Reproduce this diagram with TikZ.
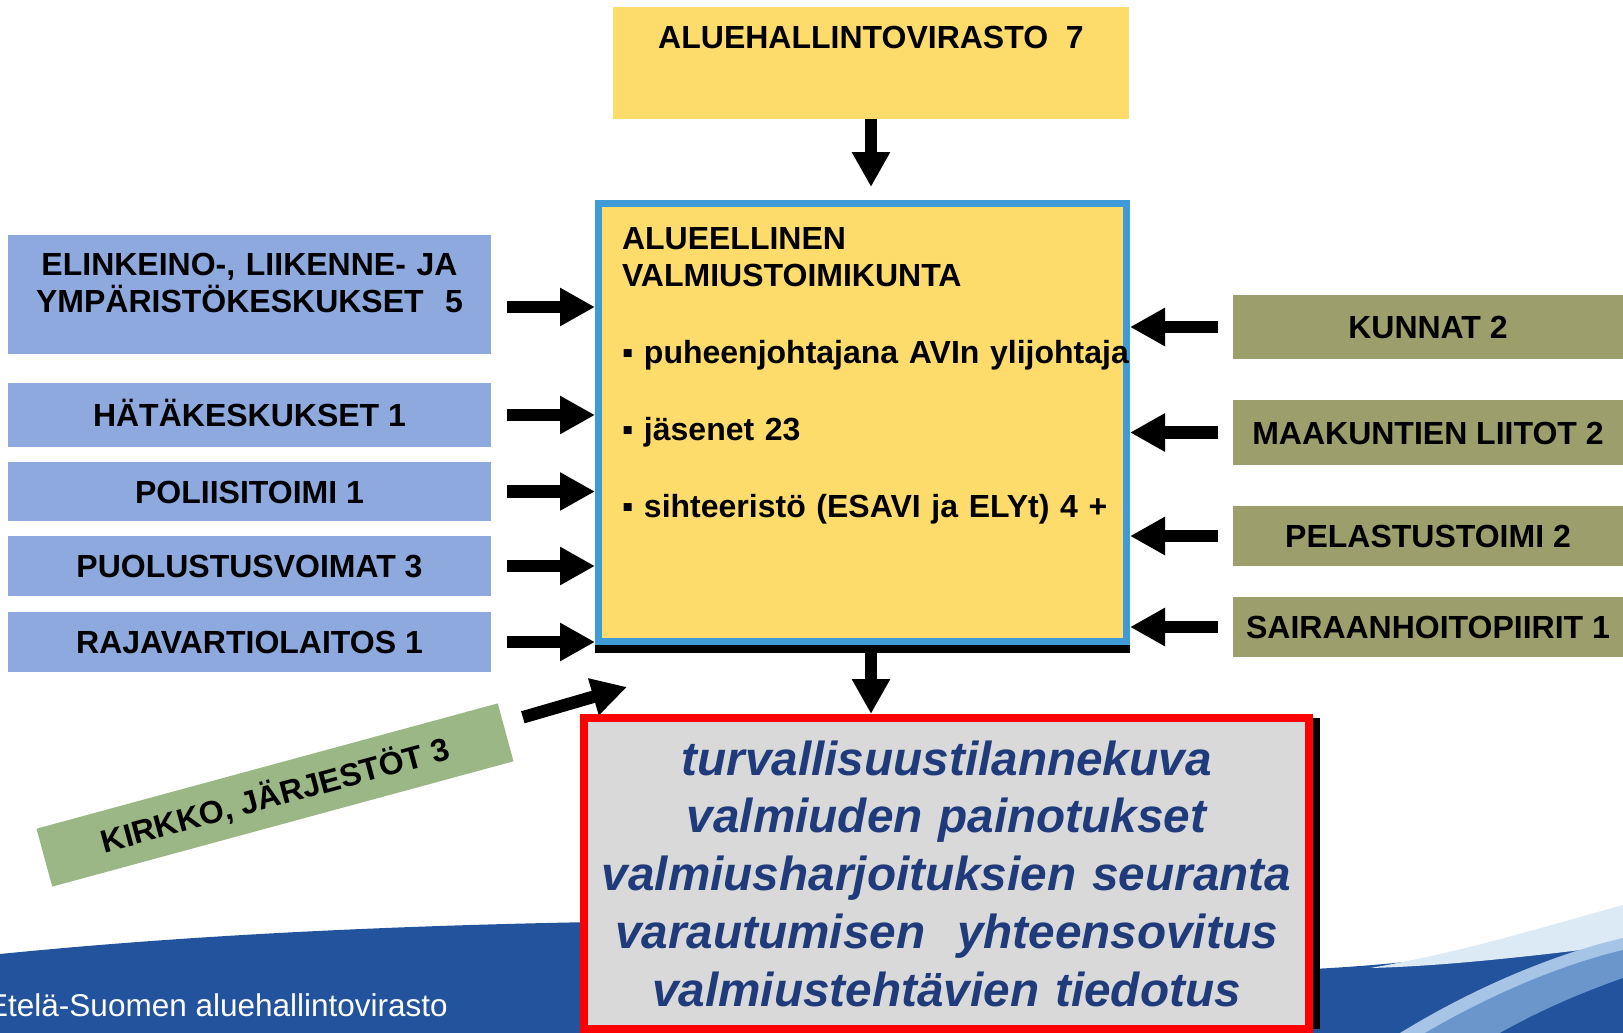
\documentclass[tikz,border=0pt]{standalone}
\usepackage{fontspec}
\setmainfont{Liberation Sans}
\usetikzlibrary{arrows.meta,shadows}

\definecolor{avikeltainen}{HTML}{FEDC6C}
\definecolor{avisininen}{HTML}{3F9BD8}
\definecolor{valtiosininen}{HTML}{8EA9DE}
\definecolor{kuntaoliivi}{HTML}{9C9F6B}
\definecolor{kirkkovihrea}{HTML}{9AB785}
\definecolor{harmaa}{HTML}{D9D9D9}
\definecolor{tekstisininen}{HTML}{1F3B7B}
\definecolor{aaltotumma}{HTML}{24539D}
\definecolor{aaltokeski}{HTML}{6A96CB}
\definecolor{aaltohaalea}{HTML}{A6C4E5}
\definecolor{aaltovaalea}{HTML}{DCEAF6}

\begin{document}
\begin{tikzpicture}[x=1pt, y=-1pt,
        every node/.style={inner sep=0pt, font=\fontsize{32}{37}\selectfont\bfseries},
        valtio/.style={fill=valtiosininen, minimum width=483pt, minimum height=60pt, text height=23pt, text depth=0pt},
        kunta/.style={fill=kuntaoliivi, minimum width=390pt, minimum height=60pt, text height=23pt, text depth=0pt},
        nuoli/.style={line width=12.5pt, -{Triangle[length=35pt, width=36pt]}},
    ]
        \useasboundingbox (0,0) rectangle (1623,1033);
        \fill[white] (0,0) rectangle (1623,1033);
        \clip (0,0) rectangle (1623,1033);
        % alareunan aalto
        \fill[aaltotumma] (0,954) .. controls (200,934) and (420,924) .. (660,921) -- (660,1033) -- (0,1033) -- cycle;
        \fill[aaltotumma] (1290,970) .. controls (1420,965) and (1520,948) .. (1623,928) -- (1623,1033) -- (1290,1033) -- cycle;
        \fill[aaltovaalea] (1370,968) .. controls (1460,953) and (1550,925) .. (1623,905) -- (1623,945) .. controls (1540,955) and (1450,966) .. (1370,968) -- cycle;
        \fill[aaltohaalea] (1400,1033) .. controls (1470,990) and (1550,955) .. (1623,938) -- (1623,1033) -- cycle;
        \fill[aaltokeski] (1425,1033) .. controls (1490,995) and (1560,965) .. (1623,950) -- (1623,1033) -- cycle;
        \fill[aaltotumma] (1500,1033) .. controls (1550,1005) and (1590,990) .. (1623,978) -- (1623,1033) -- cycle;

        \node[fill=avikeltainen, minimum width=516pt, text height=23pt, inner ysep=18.5pt, text depth=52pt] (avi) at (871,63) {ALUEHALLINTOVIRASTO\ \ 7};
        \node[draw=avisininen, line width=7pt, fill=avikeltainen, text width=481pt, inner xsep=23.5pt, inner ysep=23pt,
            text height=23pt, text depth=369pt, align=left] (vtk) at (862.5,422.5)
            {ALUEELLINEN\\VALMIUSTOIMIKUNTA\\[40pt]\mbox{▪ puheenjohtajana AVIn ylijohtaja}\\[40pt]▪ jäsenet 23\\[40pt]\mbox{▪ sihteeristö (ESAVI ja ELYt) 4 +}};
        \draw[line width=8pt] ([yshift=-4pt]vtk.south west) -- ([yshift=-4pt]vtk.south east);
        \coordinate (palkki) at ([yshift=-8pt]vtk.south);

        \node[valtio, minimum height=119pt, text width=483pt, align=center, inner ysep=17.5pt, text depth=61pt] (ely) at (249.5,294.5)
            {ELINKEINO-, LIIKENNE- JA\\YMPÄRISTÖKESKUKSET\ \ 5};
        \node[valtio, minimum height=64pt] (hata) at (249.5,415) {HÄTÄKESKUKSET 1};
        \node[valtio, minimum height=59pt] (poliisi) at (249.5,491.5) {POLIISITOIMI 1};
        \node[valtio] (puolustus) at (249.5,566) {PUOLUSTUSVOIMAT 3};
        \node[valtio] (raja) at (249.5,642) {RAJAVARTIOLAITOS 1};

        \node[kunta, minimum height=64pt] (kunnat) at (1428,327) {KUNNAT 2};
        \node[kunta, minimum height=65pt] (maakunnat) at (1428,432.5) {MAAKUNTIEN LIITOT 2};
        \node[kunta] (pelastus) at (1428,536) {PELASTUSTOIMI 2};
        \node[kunta] (sairaanhoito) at (1428,627) {SAIRAANHOITOPIIRIT 1};

        \node[fill=kirkkovihrea, minimum width=478pt, minimum height=60pt, text height=23pt, text depth=0pt, rotate=15.2] (kirkko) at (275,795) {KIRKKO, JÄRJESTÖT 3};

        \node[draw=red, line width=8pt, fill=harmaa, minimum width=725pt, minimum height=311pt, text width=725pt, align=center,
            text=tekstisininen, font=\fontsize{47.7}{57.75}\selectfont\bfseries\itshape,
            drop shadow={shadow xshift=11pt, shadow yshift=0pt, fill=black, opacity=1}] (tilanne) at (946.5,873.5)
            {turvallisuustilannekuva\\valmiuden painotukset\\valmiusharjoituksien seuranta\\varautumisen\ \ yhteensovitus\\valmiustehtävien tiedotus};

        \node[anchor=base west, text=white, font=\fontsize{31.5}{37}\selectfont] (virasto) at (-13,1016) {Etelä-Suomen aluehallintovirasto};

        \draw[nuoli] (avi.south) -- ([yshift=13pt]avi.south |- vtk.north);
        \draw[nuoli] (avi.south |- palkki) -- (avi.south |- tilanne.north);
        \foreach \lahde/\dy in {ely/12.5, hata/0, poliisi/0, puolustus/0, raja/0}
            \draw[nuoli] ([shift={(16,\dy)}]\lahde.east) coordinate (alku) -- (alku -| vtk.west);
        \foreach \lahde in {kunnat, maakunnat, pelastus, sairaanhoito}
            \draw[nuoli] ([xshift=-15pt]\lahde.west) coordinate (alku) -- (alku -| vtk.east);
        \coordinate (kirkkokarki) at (627,687);
        \draw[nuoli] ([shift={(17,-15)}]kirkko.east) -- (kirkkokarki);
%        \draw[nuoli] (kirkko.east) -- (tilanne.north west);
    \end{tikzpicture}
\end{document}
